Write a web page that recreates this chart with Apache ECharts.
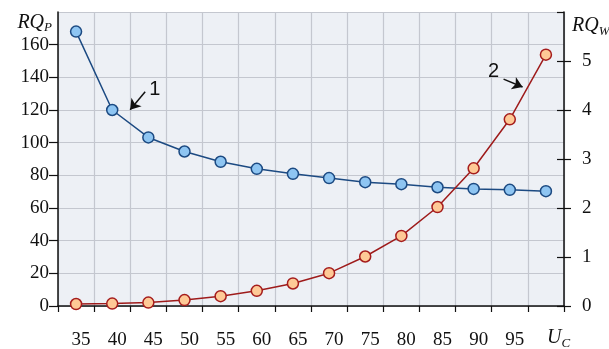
<!DOCTYPE html>
<html>
<head>
<meta charset="utf-8">
<script src="https://cdn.jsdelivr.net/npm/echarts@6/dist/echarts.min.js"></script>
<style>
  html, body { margin: 0; padding: 0; background: #ffffff; }
  #chart { width: 609px; height: 349px; }
</style>
</head>
<body>
<div id="chart"></div>
<script>
// Control voltage U_C, one sample every 5 units
const uValues = [35, 40, 45, 50, 55, 60, 65, 70, 75, 80, 85, 90, 95, 100];
// Curve 1: RQ_P (left axis)
const rqP = [168, 120, 103.2, 94.6, 88.3, 84, 80.9, 78.3, 75.8, 74.6, 72.7, 71.7, 71.1, 70.3];
// Curve 2: RQ_W (right axis)
const rqW = [0.04, 0.05, 0.07, 0.12, 0.2, 0.31, 0.46, 0.67, 1.01, 1.43, 2.02, 2.81, 3.81, 5.13];
// Tick labels along U_C
const uLabels = [35, 40, 45, 50, 55, 60, 65, 70, 75, 80, 85, 90, 95];

// Curve callouts: label position, arrow tail and arrow tip (data units)
const callout1 = { text: '1', label: [45.9, 132.4], from: [44.56, 131.2], to: [42.48, 120.2] };
const callout2 = { text: '2', label: [92.76, 4.78], from: [94.14, 4.63], to: [96.77, 4.47] };

const serif = 'Liberation Serif';
const ink = '#111111';

function pairs(xs, ys) { return xs.map((x, i) => [x, ys[i]]); }

function calloutArrow(c) {
  return {
    silent: true,
    animation: false,
    symbol: ['none', 'arrow'],
    symbolSize: 10,
    label: { show: false },
    lineStyle: { color: ink, width: 1.5, type: 'solid' },
    data: [[{ coord: c.from }, { coord: c.to }]]
  };
}
function calloutText(c) {
  return {
    silent: true,
    animation: false,
    symbol: 'circle',
    symbolSize: 1,
    itemStyle: { color: 'rgba(0,0,0,0)' },
    label: {
      show: true, position: 'inside', formatter: c.text,
      fontFamily: 'Liberation Sans', fontSize: 20, color: ink
    },
    data: [{ coord: c.label }]
  };
}

const subRich = {
  m: { fontFamily: serif, fontStyle: 'italic', fontSize: 20, color: ink, lineHeight: 26, verticalAlign: 'middle' },
  s: { fontFamily: serif, fontStyle: 'italic', fontSize: 13, color: ink, lineHeight: 26, verticalAlign: 'bottom', padding: [0, 0, 1, 0] }
};

const chart = echarts.init(document.getElementById('chart'), null, { renderer: 'canvas' });
chart.setOption({
  animation: false,
  backgroundColor: '#ffffff',
  grid: {
    left: 58, right: 45, top: 12, bottom: 43,
    outerBoundsMode: 'none',
    containLabel: false,
    show: true, backgroundColor: '#edf0f5', borderWidth: 0
  },
  xAxis: {
    type: 'value',
    min: 32.5, max: 102.5, interval: 5,
    name: '{m|U}{s|C}',
    nameLocation: 'end',
    nameGap: -17,
    nameTextStyle: { rich: subRich, align: 'left', verticalAlign: 'top', padding: [19, 0, 0, 0] },
    axisLine: { show: true, onZero: false, lineStyle: { color: ink, width: 1.5 } },
    axisTick: { show: true, inside: false, length: 6, lineStyle: { color: ink, width: 1.2 } },
    axisLabel: {
      customValues: uLabels,
      margin: 25,
      padding: [0, 0, 0, 10],
      fontFamily: serif, fontSize: 19, color: ink
    },
    splitLine: { show: true, lineStyle: { color: '#c4c7cf', width: 1.2 } }
  },
  yAxis: [
    {
      type: 'value', position: 'left',
      min: 0, max: 180, interval: 20,
      name: '{m|RQ}{s|P}',
      nameLocation: 'end',
      nameGap: -12,
      nameTextStyle: { rich: subRich, align: 'right', verticalAlign: 'middle', padding: [0, 6, 0, 0] },
      axisLine: { show: true, lineStyle: { color: ink, width: 1.5 } },
      axisTick: { show: true, inside: false, length: 9, lineStyle: { color: ink, width: 1.2 } },
      axisLabel: { showMaxLabel: false, margin: 9, fontFamily: serif, fontSize: 19, color: ink },
      splitLine: { show: true, lineStyle: { color: '#c4c7cf', width: 1.2 } }
    },
    {
      type: 'value', position: 'right',
      min: 0, max: 6, interval: 1,
      name: '{m|RQ}{s|W}',
      nameLocation: 'end',
      nameGap: -14,
      nameTextStyle: { rich: subRich, align: 'left', verticalAlign: 'middle', padding: [0, 0, 0, 8] },
      axisLine: { show: true, lineStyle: { color: ink, width: 1.5 } },
      axisTick: { show: true, inside: false, length: 7, lineStyle: { color: ink, width: 1.2 } },
      axisLabel: { showMaxLabel: false, margin: 18, fontFamily: serif, fontSize: 19, color: ink },
      splitLine: { show: false }
    },
    {
      // inner half of the crossing ticks on the right axis
      type: 'value', position: 'right',
      min: 0, max: 6, interval: 1,
      axisLine: { show: false },
      axisTick: { show: true, inside: true, length: 7, lineStyle: { color: ink, width: 1.2 } },
      axisLabel: { show: false },
      splitLine: { show: false }
    }
  ],
  series: [
    {
      name: 'RQ_P',
      type: 'line',
      yAxisIndex: 0,
      data: pairs(uValues, rqP),
      symbol: 'circle',
      symbolSize: 11,
      lineStyle: { color: '#1c4a82', width: 1.5 },
      itemStyle: { color: '#8ec5f2', borderColor: '#1c4a82', borderWidth: 1.5 },
      z: 3,
      markLine: calloutArrow(callout1),
      markPoint: calloutText(callout1)
    },
    {
      name: 'RQ_W',
      type: 'line',
      yAxisIndex: 1,
      data: pairs(uValues, rqW),
      symbol: 'circle',
      symbolSize: 11,
      lineStyle: { color: '#9e1b1b', width: 1.5 },
      itemStyle: { color: '#fec996', borderColor: '#a51c1c', borderWidth: 1.5 },
      z: 4,
      markLine: calloutArrow(callout2),
      markPoint: calloutText(callout2)
    }
  ]
});
</script>
</body>
</html>
